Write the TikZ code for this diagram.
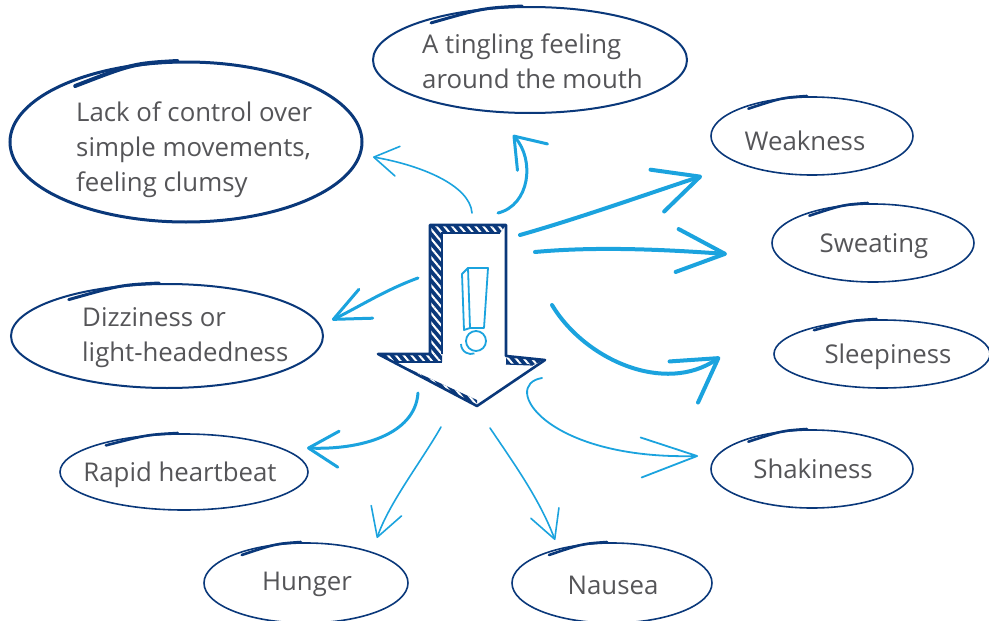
\documentclass[tikz,border=0pt]{standalone}
\usepackage{fontspec}
\setmainfont{Open Sans}
\usetikzlibrary{arrows.meta,calc,patterns.meta}
\definecolor{navy}{RGB}{10,56,122}
\definecolor{sky}{RGB}{27,163,222}
\definecolor{ink}{RGB}{85,85,88}
\tikzset{
  symptom/.style={inner sep=0pt, text=ink, font=\fontsize{25.8}{35}\selectfont, align=left},
  rim/.style={draw=navy, line cap=round},
  cue/.style n args={3}{draw=sky, line width=#1, line cap=round, line join=round,
    -{Straight Barb[round, length=#2, width=#3]}},
}
\begin{document}
\begin{tikzpicture}[x=1pt, y=-1pt]
\useasboundingbox (0,0) rectangle (989,621);

% symptoms
\node[symptom, anchor=west] (lack) at (76,150) {Lack of control over\\simple movements,\\feeling clumsy};
\node[symptom, anchor=west] (tingle) at (422,61) {A tingling feeling\\around the mouth};
\node[symptom, anchor=west] (dizzy) at (82,338) {Dizziness or\\light-headedness};
\node[symptom] (weak) at (805,141) {Weakness};
\node[symptom] (sweat) at (874,246) {Sweating};
\node[symptom] (sleep) at (888,357) {Sleepiness};
\node[symptom] (shake) at (813,469) {Shakiness};
\node[symptom] (nausea) at (613,585) {Nausea};
\node[symptom] (hunger) at (307,584) {Hunger};
\node[symptom] (rapid) at (180,475) {Rapid heartbeat};

% hand drawn rings round the symptoms
\foreach \at/\dx/\dy/\rx/\ry/\lw in {lack.west/110/-8/176/80/3, tingle.west/108/-1/157/53/2,
    dizzy.west/85/-2/156/52/2, weak/7/-5/101/39/1.6, sweat/-1/-3/101/39/1.6,
    sleep/-6/-3/108/34/1.6, shake/-1/0/101/39/1.6, nausea/-1/-2/100/40/1.6,
    hunger/-1/-1/102/40/1.6, rapid/4/-3/124/38/1.6} {
  \pgfmathsetmacro\ow{\lw+1}
  \path ($(\at)+(\dx,\dy)$) coordinate (c);
  \draw[rim, line width=\lw pt] (c) ellipse [x radius=\rx, y radius=\ry];
  \draw[rim, line width=\ow pt] ($(c)+(-0.63*\rx,-0.7*\ry)$) .. controls ($(c)+(-0.3*\rx,-0.98*\ry)$) .. ($(c)+(-0.05*\rx,-\ry-1)$);
}

% warning arrow
\fill[white] (430,225) -- (506,225) -- (506,356) -- (545,360) -- (477,406) -- (378,354) -- (430,354) -- cycle;
\fill[navy, postaction={pattern={Lines[angle=-50,distance=6pt,line width=2pt]}, pattern color=white}]
  (430,225) -- (506,225) -- (500,233) -- (442,233) -- (442,354) -- (430,354) -- cycle;
\fill[navy, postaction={pattern={Lines[angle=-50,distance=6pt,line width=2pt]}, pattern color=white}]
  (378,354) -- (442,354) -- (442,362) -- (394,362) -- (477,400) -- (477,406) -- cycle;
\fill[navy, postaction={pattern={Lines[angle=-50,distance=6pt,line width=2pt]}, pattern color=white}]
  (506,356) -- (545,360) -- (533,365) -- (506,364) -- cycle;
\draw[navy, line width=2.6pt, line join=round] (430,225) -- (506,225) -- (506,356) -- (545,360) -- (477,406) -- (378,354) -- (430,354) -- cycle;
\draw[navy, line width=1.2pt] (442,354) -- (442,233) -- (500,233);
\draw[navy, line width=1.2pt] (394,362) -- (442,362);
\draw[navy, line width=1.2pt] (506,364) -- (533,365);

% exclamation mark
\draw[sky, line width=1.8pt, line join=round] (468,268) -- (488,268) -- (484,328) -- (470,328) -- cycle;
\draw[sky, line width=1.8pt, line join=round] (468,268) -- (462,274) -- (464,330) -- (470,328);
\draw[sky, line width=1.8pt] (476,341) circle[radius=10];
\draw[sky, line width=1.8pt] (461,344) arc[start angle=180, end angle=70, radius=10];

% cues from the warning arrow
\coordinate (alert) at (476,315);
\draw[cue={1.6pt}{24pt}{30pt}] ($(alert)+(-4,-102)$) .. controls +(-2,-28) and +(47,8) .. ($(lack.west)+(297,7)$);
\draw[cue={3pt}{28pt}{40pt}] ($(alert)+(22,-102)$) .. controls +(32,-8) and +(22,25) .. ($(tingle.west)+(91,74)$);
\draw[cue={4pt}{45pt}{44pt}] ($(alert)+(44,-80)$) .. controls +(60,-17) and +(-52,17) .. ($(weak)+(-103,35)$);
\draw[cue={4pt}{48pt}{43pt}] ($(alert)+(59,-63)$) .. controls +(65,-6) and +(-57,-4) .. ($(sweat)+(-147,8)$);
\draw[cue={4pt}{42pt}{50pt}] ($(alert)+(76,-10)$) .. controls +(33,55) and +(-55,38) .. ($(sleep)+(-168,0)$);
\draw[cue={1.8pt}{56pt}{40pt}] ($(alert)+(66,63)$) .. controls +(-42,7) and +(-153,4) .. ($(shake)+(-115,-13)$);
\draw[cue={1.6pt}{28pt}{30pt}] ($(alert)+(14,113)$) .. controls +(25,37) and +(-15,-40) .. ($(nausea)+(-58,-45)$);
\draw[cue={1.6pt}{28pt}{32pt}] ($(alert)+(-35,112)$) .. controls +(-20,35) and +(12,-35) .. ($(hunger)+(70,-46)$);
\draw[cue={3pt}{30pt}{36pt}] ($(alert)+(-58,78)$) .. controls +(-3,42) and +(53,2) .. ($(rapid)+(127,-27)$);
\draw[cue={3pt}{36pt}{32pt}] ($(alert)+(-58,-37)$) .. controls +(-33,12) and +(25,-12) .. ($(dizzy.west)+(250,-18)$);
\end{tikzpicture}
\end{document}
